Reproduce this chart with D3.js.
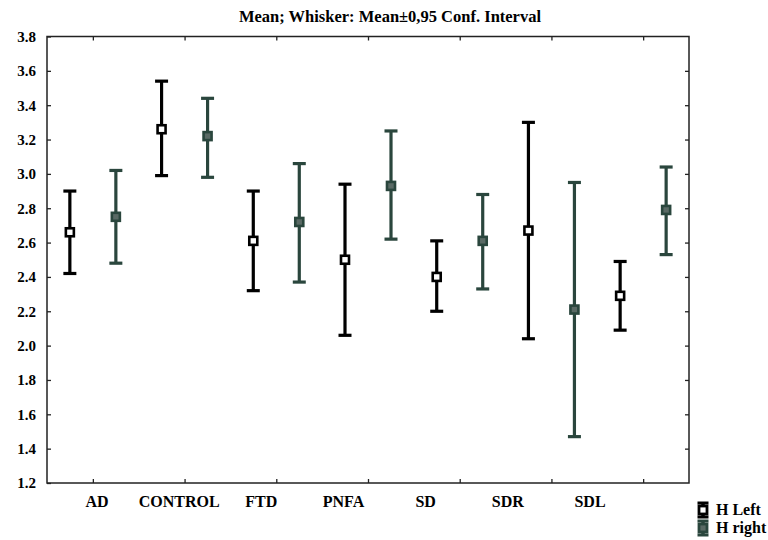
<!DOCTYPE html>
<html><head><meta charset="utf-8">
<script src="https://cdn.jsdelivr.net/npm/d3@7/dist/d3.min.js"></script>
<style>body{margin:0;background:#fff}svg{display:block}text{font-family:"Liberation Serif","Times New Roman",serif;font-weight:bold}</style>
</head><body><svg id="c" width="768" height="540"></svg>
<script>
const categories = ["AD","CONTROL","FTD","PNFA","SD","SDR","SDL"];
const seriesNames = ["H Left","H right"];
const leftMean  = [2.66, 3.26, 2.61, 2.50, 2.40, 2.67, 2.29];
const leftLow   = [2.42, 2.99, 2.32, 2.06, 2.20, 2.04, 2.09];
const leftHigh  = [2.90, 3.54, 2.90, 2.94, 2.61, 3.30, 2.49];
const rightMean = [2.75, 3.22, 2.72, 2.93, 2.61, 2.21, 2.79];
const rightLow  = [2.48, 2.98, 2.37, 2.62, 2.33, 1.47, 2.53];
const rightHigh = [3.02, 3.44, 3.06, 3.25, 2.88, 2.95, 3.04];
const yTicks = [1.2,1.4,1.6,1.8,2.0,2.2,2.4,2.6,2.8,3.0,3.2,3.4,3.6,3.8];
const title = "Mean; Whisker: Mean\u00b10,95 Conf. Interval";

const svg = d3.select("#c");
const L = 47, R = 689, T = 36.5, B = 483;
const x = d3.scaleBand().domain(categories).range([L, R]);
const xLab = d3.scalePoint().domain(categories).range([97, 590]);
const y = d3.scaleLinear().domain([1.2, 3.8]).range([B, T]);
const colors = ["#000000", "#2a463d"];
const off = 23;

svg.append("text").attr("x", 390).attr("y", 22).attr("text-anchor","middle")
  .style("font-size","16.5px").text(title);

// frame
svg.append("rect").attr("x", L).attr("y", T).attr("width", R-L).attr("height", B-T)
  .attr("fill","none").attr("stroke","#222").attr("stroke-width",1.5);

// y axis left (ticks inward)
const gy = svg.append("g").attr("transform",`translate(${L},0)`)
  .call(d3.axisLeft(y).tickValues(yTicks).tickFormat(d3.format(".1f")).tickSize(-4).tickPadding(11));
gy.select(".domain").remove();
gy.selectAll("text").style("font-size","15px").attr("fill","#000");
gy.selectAll("line").attr("stroke","#222").attr("stroke-width",1.3);
// y ticks right
const gyr = svg.append("g").attr("transform",`translate(${R},0)`)
  .call(d3.axisRight(y).tickValues(yTicks.slice(1,-1)).tickFormat("").tickSize(-4));
gyr.select(".domain").remove();
gyr.selectAll("line").attr("stroke","#222").attr("stroke-width",1.3);
// x ticks bottom/top
const tickX = c => x(c) + x.bandwidth()/2;
const xTick = d3.scalePoint().domain(categories).range([tickX(categories[0]), tickX(categories[6])]);
const gxb = svg.append("g").attr("transform",`translate(0,${B})`)
  .call(d3.axisBottom(xTick).tickSize(-4).tickFormat(""));
gxb.select(".domain").remove();
gxb.selectAll("line").attr("stroke","#222").attr("stroke-width",1.3);
const gxt = svg.append("g").attr("transform",`translate(0,${T})`)
  .call(d3.axisTop(xTick).tickSize(-4).tickFormat(""));
gxt.select(".domain").remove();
gxt.selectAll("line").attr("stroke","#222").attr("stroke-width",1.3);

// category labels
svg.append("g").selectAll("text").data(categories).join("text")
  .attr("x", d => xLab(d)).attr("y", 507).attr("text-anchor","middle")
  .style("font-size","16px").text(d => d);

const series = [
  {mean:leftMean, low:leftLow, high:leftHigh, dx:-off, color:colors[0], fill:"#fff"},
  {mean:rightMean, low:rightLow, high:rightHigh, dx:off, color:colors[1], fill:"#5a6a65"}
];
const cap = 6.5;
series.forEach(s => {
  const g = svg.append("g");
  categories.forEach((c,i) => {
    const cx = tickX(c) + s.dx;
    g.append("line").attr("x1",cx).attr("x2",cx).attr("y1",y(s.low[i])).attr("y2",y(s.high[i]))
      .attr("stroke",s.color).attr("stroke-width",3.2);
    [s.low[i], s.high[i]].forEach(v => g.append("line").attr("x1",cx-cap).attr("x2",cx+cap)
      .attr("y1",y(v)).attr("y2",y(v)).attr("stroke",s.color).attr("stroke-width",3.2));
    g.append("rect").attr("x",cx-4).attr("y",y(s.mean[i])-4).attr("width",8).attr("height",8)
      .attr("fill",s.fill).attr("stroke",s.color).attr("stroke-width",2.6);
  });
});

// legend
const lg = svg.append("g");
seriesNames.forEach((n,i) => {
  const s = series[i];
  const cy = 510 + i*18, cx = 703;
  lg.append("line").attr("x1",cx).attr("x2",cx).attr("y1",cy-7).attr("y2",cy+7).attr("stroke",s.color).attr("stroke-width",3.5);
  [cy-7, cy+7].forEach(v => lg.append("line").attr("x1",cx-5.5).attr("x2",cx+5.5).attr("y1",v).attr("y2",v).attr("stroke",s.color).attr("stroke-width",3));
  lg.append("rect").attr("x",cx-4).attr("y",cy-4).attr("width",8).attr("height",8)
    .attr("fill",s.fill).attr("stroke",s.color).attr("stroke-width",2.8);
  lg.append("text").attr("x",716).attr("y",cy+5).style("font-size","16px").text(n);
});
</script></body></html>
